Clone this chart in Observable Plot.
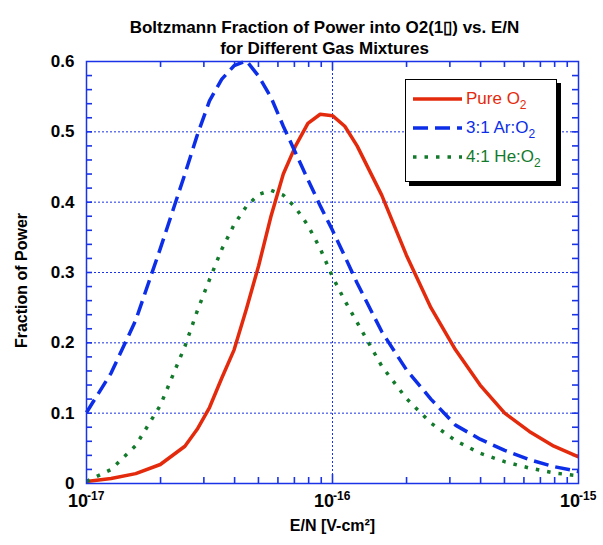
<!DOCTYPE html>
<html><head><meta charset="utf-8">
<script src="https://cdn.jsdelivr.net/npm/d3@7"></script>
<script src="https://cdn.jsdelivr.net/npm/@observablehq/plot@0.6"></script>
<style>
body{margin:0;background:#fff;font-family:"Liberation Sans",Arial,sans-serif;}
#wrap{position:relative;width:603px;height:545px;}
#legend{position:absolute;left:405px;top:79px;width:150px;height:101px;border:1.5px solid #000;background:#fff;box-shadow:4px 4px 0 #000;}
.row{position:absolute;left:0;height:24px;display:flex;align-items:center;}
.row svg{margin-left:7px;margin-right:4px;}
.row span{font-size:17px;white-space:nowrap;}
.row sub{font-size:12px;vertical-align:-5px;line-height:0;}
</style>
</head><body><div id="wrap"></div>
<script>
// E/N sample points [V-cm^2]
const EN = [1.000e-17,1.259e-17,1.585e-17,1.995e-17,2.512e-17,2.818e-17,3.162e-17,3.548e-17,3.981e-17,4.467e-17,5.012e-17,5.623e-17,6.310e-17,7.079e-17,7.943e-17,8.913e-17,1.000e-16,1.122e-16,1.259e-16,1.585e-16,1.995e-16,2.512e-16,3.162e-16,3.981e-16,5.012e-16,6.310e-16,7.943e-16,1.000e-15];
// Fraction of power
const pureO2 = [0.003,0.007,0.014,0.027,0.053,0.077,0.108,0.15,0.19,0.248,0.31,0.38,0.44,0.48,0.512,0.525,0.523,0.508,0.48,0.41,0.325,0.25,0.19,0.14,0.1,0.074,0.053,0.038];
const arO2 = [0.101,0.157,0.232,0.334,0.44,0.495,0.544,0.575,0.594,0.601,0.579,0.549,0.508,0.47,0.432,0.395,0.36,0.323,0.285,0.216,0.162,0.12,0.083,0.063,0.047,0.034,0.024,0.017];
const heO2 = [0.003,0.02,0.054,0.111,0.195,0.245,0.29,0.333,0.368,0.394,0.411,0.417,0.41,0.392,0.367,0.334,0.294,0.26,0.229,0.167,0.121,0.086,0.061,0.043,0.031,0.022,0.015,0.011];

const seriesNames = ["Pure O", "3:1 Ar:O", "4:1 He:O"];
const seriesColors = ["#e42a0c", "#0c2ee8", "#137a2c"];
const seriesDash = [null, "15,7", "3.5,8"];
const seriesValues = [pureO2, arO2, heO2];

const yTicks = [0, 0.1, 0.2, 0.3, 0.4, 0.5, 0.6];
const yTickLabels = ["0", "0.1", "0.2", "0.3", "0.4", "0.5", "0.6"];
const yGrid = [0.1, 0.2, 0.3, 0.4, 0.5];
const yMinor = [0.02,0.04,0.06,0.08,0.12,0.14,0.16,0.18,0.22,0.24,0.26,0.28,0.32,0.34,0.36,0.38,0.42,0.44,0.46,0.48,0.52,0.54,0.56,0.58];
const xMajor = [1e-17, 1e-16, 1e-15];
const xMajorExp = ["-17", "-16", "-15"];
const xMinor = [2e-17,3e-17,4e-17,5e-17,6e-17,7e-17,8e-17,9e-17,2e-16,3e-16,4e-16,5e-16,6e-16,7e-16,8e-16,9e-16];
const xGrid = [1e-16];
const xDomain = [1e-17, 1e-15];
const yDomain = [0, 0.6];

const titleLines = ["Boltzmann Fraction of Power into O2(1\u25AF) vs. E/N", "for Different Gas Mixtures"];
const xLabel = "E/N [V-cm\u00B2]";
const yLabel = "Fraction of Power";

const axisBlue = "#1a33e6";
const W = 603, H = 545, ML = 86, MR = 25, MT = 61, MB = 62;
const innerW = W - ML - MR, innerH = H - MT - MB;
const minorLen = 6, majorLen = 9;

const rows = [];
seriesNames.forEach((s, i) => EN.forEach((e, j) => rows.push({series: s, e, f: seriesValues[i][j]})));

const lineMarks = seriesNames.map((s, i) => Plot.line(rows.filter(r => r.series === s), {
  x: "e", y: "f", stroke: seriesColors[i], strokeWidth: 3.5,
  strokeDasharray: seriesDash[i], strokeLinecap: "butt", strokeLinejoin: "round"
}));

const tickStyle = {stroke: axisBlue, strokeWidth: 1.6, strokeOpacity: 1};

const chart = Plot.plot({
  width: W, height: H,
  marginLeft: ML, marginRight: MR, marginTop: MT, marginBottom: MB,
  style: {fontFamily: '"Liberation Sans", Arial, sans-serif', background: "#fff", color: "#000"},
  x: {type: "log", domain: xDomain, axis: null},
  y: {domain: yDomain, axis: null},
  marks: [
    Plot.gridY(yGrid, {stroke: axisBlue, strokeOpacity: 1, strokeWidth: 1, strokeDasharray: "2,2"}),
    Plot.gridX(xGrid, {stroke: axisBlue, strokeOpacity: 1, strokeWidth: 1, strokeDasharray: "2,2"}),
    // inward ticks: bottom, top, left, right
    Plot.ruleX(xMinor, {x: d => d, insetTop: innerH - minorLen, ...tickStyle}),
    Plot.ruleX(xMinor, {x: d => d, insetBottom: innerH - minorLen, ...tickStyle}),
    Plot.ruleX(xGrid, {x: d => d, insetTop: innerH - majorLen, ...tickStyle}),
    Plot.ruleX(xGrid, {x: d => d, insetBottom: innerH - majorLen, ...tickStyle}),
    Plot.ruleY(yMinor, {y: d => d, insetRight: innerW - minorLen, ...tickStyle}),
    Plot.ruleY(yMinor, {y: d => d, insetLeft: innerW - minorLen, ...tickStyle}),
    Plot.ruleY(yGrid, {y: d => d, insetRight: innerW - minorLen, ...tickStyle}),
    Plot.ruleY(yGrid, {y: d => d, insetLeft: innerW - minorLen, ...tickStyle}),
    // y tick labels
    Plot.axisY({anchor: "left", ticks: yTicks, tickSize: 0, tickPadding: 12, label: null, tickFormat: (d, i) => yTickLabels[i], fontSize: 17, fontWeight: "bold", fill: "#000"}),
    // x tick labels 10^n
    Plot.text(xMajor, {x: d => d, text: () => "10", frameAnchor: "bottom", dy: 23, dx: -8.5, fontSize: 18, fontWeight: "bold", fill: "#000"}),
    Plot.text(xMajor, {x: d => d, text: (d, i) => xMajorExp[i], frameAnchor: "bottom", dy: 16, dx: 0.5, textAnchor: "start", fontSize: 12, fontWeight: "bold", fill: "#000"}),
    // axis labels
    Plot.text([xLabel], {frameAnchor: "bottom", dy: 47, fontSize: 16, fontWeight: "bold", fill: "#000"}),
    Plot.text([yLabel], {frameAnchor: "left", textAnchor: "middle", dx: -65, dy: 8, rotate: -90, fontSize: 16, fontWeight: "bold", fill: "#000"}),
    // title
    Plot.text([titleLines[0]], {frameAnchor: "top", dy: -41, dx: -8, fontSize: 17, fontWeight: "bold", fill: "#000"}),
    Plot.text([titleLines[1]], {frameAnchor: "top", dy: -20, dx: -8, fontSize: 17, fontWeight: "bold", fill: "#000"}),
    ...lineMarks,
    Plot.frame({stroke: axisBlue, strokeWidth: 1.5})
  ]
});

const wrap = document.getElementById("wrap");
wrap.appendChild(chart);

// legend
const legend = document.createElement("div");
legend.id = "legend";
seriesNames.forEach((s, i) => {
  const row = document.createElement("div");
  row.className = "row";
  row.style.top = (7 + i * 29) + "px";
  const dash = seriesDash[i] ? `stroke-dasharray="${seriesDash[i]}"` : "";
  row.innerHTML = `<svg width="49" height="10"><line x1="0" y1="5" x2="49" y2="5" stroke="${seriesColors[i]}" stroke-width="3.5" ${dash}/></svg><span style="color:${seriesColors[i]}">${s}<sub>2</sub></span>`;
  legend.appendChild(row);
});
wrap.appendChild(legend);
</script>
</body></html>
